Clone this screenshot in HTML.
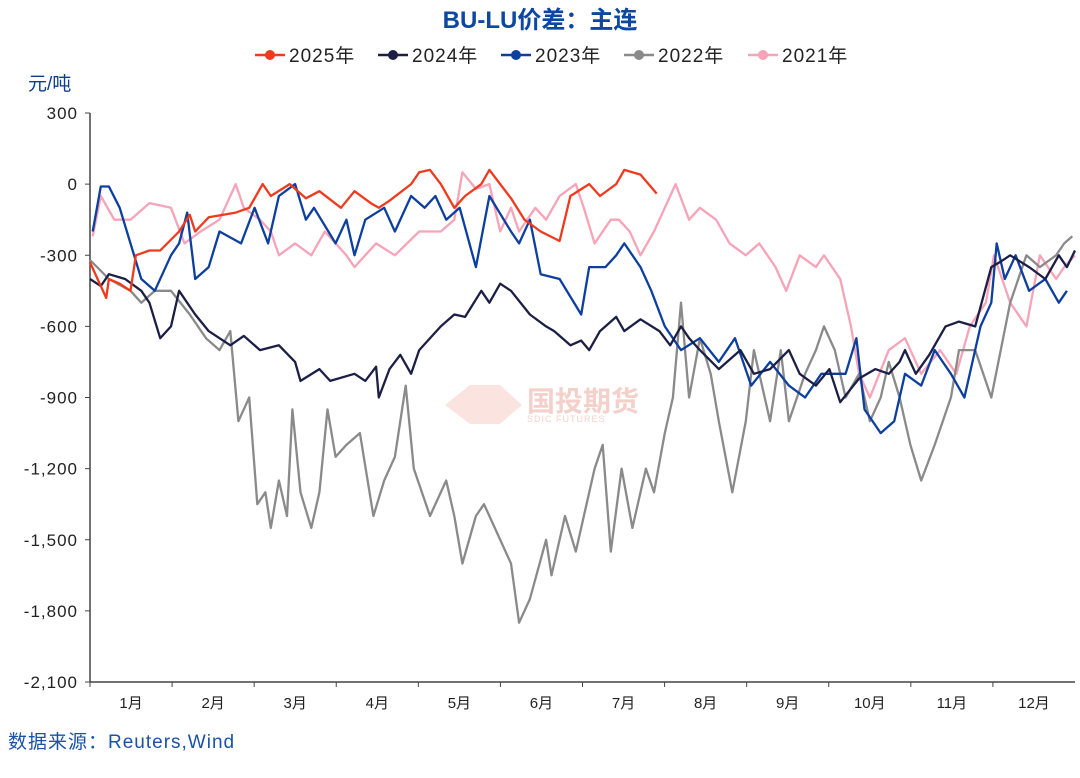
<!DOCTYPE html>
<html><head><meta charset="utf-8"><style>
body{margin:0;background:#fff;width:1080px;height:773px;overflow:hidden;font-family:"Liberation Sans","Noto Sans CJK SC",sans-serif}
</style></head><body>
<svg id="chart" width="1080" height="773" xmlns="http://www.w3.org/2000/svg" font-family="Liberation Sans, Noto Sans CJK SC, sans-serif">
<text x="540" y="28" text-anchor="middle" font-size="24" font-weight="bold" fill="#0d47a1">BU-LU价差：主连</text>
<text x="28" y="90" font-size="19" fill="#0d3f8f">元/吨</text>
<text x="8" y="748" font-size="19" fill="#1a52a6" letter-spacing="1">数据来源：Reuters,Wind</text>
<g opacity="0.35">
<text x="527" y="411" font-size="28" fill="#e07a6a" font-weight="bold">国投期货</text>
<text x="527" y="422" font-size="9" fill="#e07a6a" letter-spacing="1">SDIC FUTURES</text>
<polygon points="445,405 470,385 500,385 522,405 500,424 470,424" fill="#f4b3a6"/>
</g>
<g id="axes"></g><g id="series"></g><g id="legend"></g>
</svg>
<script>
const yTicks=[300,0,-300,-600,-900,-1200,-1500,-1800,-2100];
const tickLabels=["300","0","-300","-600","-900","-1,200","-1,500","-1,800","-2,100"];
const months=["1月","2月","3月","4月","5月","6月","7月","8月","9月","10月","11月","12月"];
const seriesNames=["2025年","2024年","2023年","2022年","2021年"];
const seriesColors=["#f03a1e","#1c1f45","#0d3f9f","#8a8a8a","#f7a3b8"];
const d2025=[0,6,7,11,15,17,22,26,33,37,39,44,54,59,64,67,74,80,85,93,98,104,107,111,119,122,126,130,135,139,145,148,156,161,167,174,178,185,189,195,198,204,210];
const v2025=[-330,-480,-400,-420,-450,-300,-280,-280,-200,-130,-200,-140,-120,-100,0,-50,0,-60,-30,-100,-30,-80,-100,-70,0,50,60,0,-100,-50,0,60,-60,-150,-200,-240,-50,0,-50,0,60,40,-40];
const d2024=[0,4,7,13,19,22,26,30,33,39,44,52,57,63,70,76,78,85,89,98,102,106,107,111,115,119,122,130,135,139,145,148,152,156,163,169,172,178,182,185,189,195,198,204,211,215,219,222,226,233,241,246,252,259,263,269,274,278,285,291,296,300,302,306,311,317,322,328,334,337,341,348,354,359,362,365];
const v2024=[-400,-430,-380,-400,-450,-500,-650,-600,-450,-550,-620,-680,-640,-700,-680,-750,-830,-780,-830,-800,-830,-770,-900,-780,-720,-800,-700,-600,-550,-560,-450,-500,-420,-450,-550,-600,-620,-680,-660,-700,-620,-560,-620,-570,-620,-680,-600,-650,-700,-780,-700,-800,-780,-700,-800,-850,-780,-920,-820,-780,-800,-750,-700,-800,-720,-600,-580,-600,-350,-330,-300,-350,-400,-300,-350,-280];
const d2023=[1,4,7,11,15,19,24,30,33,36,39,44,48,56,61,66,70,76,80,83,91,95,98,102,109,113,119,124,128,132,137,143,148,156,159,163,167,174,182,185,191,195,198,204,208,213,219,226,233,239,245,252,259,265,271,280,284,287,293,298,302,308,313,319,324,330,334,336,339,343,348,354,359,362];
const v2023=[-200,-10,-10,-100,-250,-400,-450,-300,-250,-120,-400,-350,-200,-250,-100,-250,-50,0,-150,-100,-250,-150,-300,-150,-100,-200,-50,-100,-50,-150,-100,-350,-50,-200,-250,-150,-380,-400,-550,-350,-350,-300,-250,-350,-450,-600,-700,-650,-750,-650,-850,-750,-850,-900,-800,-800,-650,-950,-1050,-1000,-800,-850,-700,-800,-900,-600,-500,-250,-400,-300,-450,-400,-500,-450];
const d2022=[0,7,15,19,24,30,37,43,48,52,55,59,62,65,67,70,73,75,78,82,85,88,91,95,100,105,109,113,117,120,126,132,135,138,143,146,150,156,159,163,169,171,176,180,187,190,193,197,201,206,209,213,216,219,222,226,230,233,238,243,246,252,256,259,265,269,272,276,280,285,289,293,296,300,304,308,313,319,322,328,334,341,347,352,358,361,364];
const v2022=[-320,-400,-450,-500,-450,-450,-550,-650,-700,-620,-1000,-900,-1350,-1300,-1450,-1250,-1400,-950,-1300,-1450,-1300,-950,-1150,-1100,-1050,-1400,-1250,-1150,-850,-1200,-1400,-1250,-1400,-1600,-1400,-1350,-1450,-1600,-1850,-1750,-1500,-1650,-1400,-1550,-1200,-1100,-1550,-1200,-1450,-1200,-1300,-1050,-900,-500,-900,-650,-800,-1000,-1300,-1000,-700,-1000,-700,-1000,-800,-700,-600,-700,-900,-800,-1000,-900,-750,-900,-1100,-1250,-1100,-900,-700,-700,-900,-500,-300,-350,-300,-250,-220];
const d2021=[1,4,9,15,22,30,35,41,48,54,57,63,67,70,76,82,87,91,95,98,106,113,122,130,135,138,143,148,152,156,159,165,169,174,180,183,187,193,196,200,204,209,217,222,226,232,237,243,248,254,258,263,269,272,278,282,285,289,296,302,308,315,321,326,332,335,341,347,352,358,361,365];
const v2021=[-220,-50,-150,-150,-80,-100,-250,-200,-150,0,-100,-150,-200,-300,-250,-300,-200,-250,-300,-350,-250,-300,-200,-200,-150,50,-20,0,-200,-100,-200,-100,-150,-50,0,-100,-250,-150,-150,-200,-300,-200,0,-150,-100,-150,-250,-300,-250,-350,-450,-300,-350,-300,-400,-600,-800,-900,-700,-650,-800,-700,-800,-600,-500,-300,-500,-600,-300,-400,-350,-300];
const allDays=[d2025,d2024,d2023,d2022,d2021];
const allVals=[v2025,v2024,v2023,v2022,v2021];

const X0=90,X1=1075,Y0=113,Y1=682;
const xs=d=>X0+d/365*(X1-X0);
const ys=v=>Y0+(300-v)/2400*(Y1-Y0);
const NS="http://www.w3.org/2000/svg";
function mk(tag,attrs,parent){const e=document.createElementNS(NS,tag);for(const k in attrs)e.setAttribute(k,attrs[k]);parent.appendChild(e);return e;}
const ax=document.getElementById('axes');
let yl=mk('line',{x1:X0,y1:Y0,x2:X0,y2:Y1,stroke:'#444','stroke-width':1.5},ax);


let xl=mk('line',{x1:X0,y1:Y1,x2:X1,y2:Y1,stroke:'#444','stroke-width':1.5},ax);


yTicks.forEach((t,i)=>{
  mk('line',{x1:X0-5,y1:ys(t),x2:X0,y2:ys(t),stroke:'#444'},ax);
  const tx=mk('text',{x:X0-12,y:ys(t)+6,'text-anchor':'end','font-size':17,fill:'#222','letter-spacing':1},ax);
  tx.textContent=tickLabels[i];
  
  
});
months.forEach((m,i)=>{
  const w=(X1-X0)/12;
  mk('line',{x1:X0+i*w,y1:Y1,x2:X0+i*w,y2:Y1+5,stroke:'#444'},ax);
  const tx=mk('text',{x:X0+(i+0.5)*w,y:Y1+26,'text-anchor':'middle','font-size':15,fill:'#222'},ax);
  tx.textContent=m;
  
  
});
const sg=document.getElementById('series');
[4,3,2,1,0].forEach(i=>{
  const pts=allDays[i].map((d,j)=>xs(d).toFixed(1)+','+ys(allVals[i][j]).toFixed(1)).join(' ');
  const p=mk('polyline',{points:pts,fill:'none',stroke:seriesColors[i],'stroke-width':2.3,'stroke-linejoin':'round'},sg);
  
  
});
const lg=document.getElementById('legend');
const lx=[255,378,501,624,748];
seriesNames.forEach((n,i)=>{
  const g=mk('g',{},lg);
  
  
  mk('line',{x1:lx[i],y1:55,x2:lx[i]+30,y2:55,stroke:seriesColors[i],'stroke-width':2.5},g);
  mk('circle',{cx:lx[i]+15,cy:55,r:5,fill:seriesColors[i]},g);
  const t=mk('text',{x:lx[i]+34,y:62,'font-size':19,fill:'#222','letter-spacing':1},g);
  t.textContent=n;
});
</script>
</body></html>
